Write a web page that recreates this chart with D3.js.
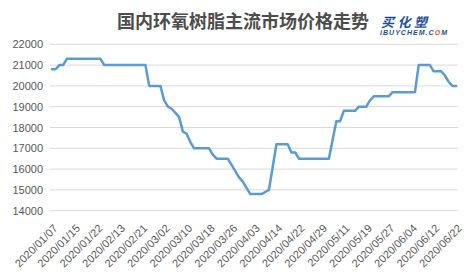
<!DOCTYPE html>
<html>
<head>
<meta charset="utf-8">
<script src="https://cdn.jsdelivr.net/npm/d3@7"></script>
<style>
  body { margin: 0; background: #fff; }
  svg { display: block; }
</style>
</head>
<body>
<script>
// price series, one value per trading day
var prices = [
  20800, 20800, 21000, 21000, 21300, 21300, 21300, 21300, 21300, 21300,
  21300, 21300, 21300, 21300, 21000, 21000, 21000, 21000, 21000, 21000,
  21000, 21000, 21000, 21000, 21000, 21000, 20000, 20000, 20000, 20000,
  19300, 19000, 18900, 18700, 18500, 17800, 17700, 17300, 17000, 17000,
  17000, 17000, 17000, 16700, 16500, 16500, 16500, 16500, 16200, 15900,
  15600, 15400, 15100, 14800, 14800, 14800, 14800, 14900, 15000, 16100,
  17200, 17200, 17200, 17200, 16800, 16800, 16500, 16500, 16500, 16500,
  16500, 16500, 16500, 16500, 16500, 17400, 18300, 18300, 18800, 18800,
  18800, 18800, 19000, 19000, 19000, 19300, 19500, 19500, 19500, 19500,
  19500, 19700, 19700, 19700, 19700, 19700, 19700, 19700, 21000, 21000,
  21000, 21000, 20700, 20700, 20700, 20500, 20200, 20000, 20000
];

// date labels shown on the axis, every 6th trading day
var tickLabels = [
  "2020/01/07", "2020/01/15", "2020/01/22", "2020/02/13", "2020/02/21",
  "2020/03/02", "2020/03/10", "2020/03/18", "2020/03/26", "2020/04/03",
  "2020/04/14", "2020/04/22", "2020/04/29", "2020/05/11", "2020/05/19",
  "2020/05/27", "2020/06/04", "2020/06/12", "2020/06/22"
];
var labelEvery = 6;

var yTicks = [14000, 15000, 16000, 17000, 18000, 19000, 20000, 21000, 22000];

var width = 470, height = 278;
var svg = d3.select("body").append("svg")
    .attr("width", width)
    .attr("height", height);

var x = d3.scalePoint()
    .domain(d3.range(prices.length))
    .range([50, 458])
    .padding(0.5);

var y = d3.scaleLinear()
    .domain([14000, 22000])
    .range([210.7, 44.3]);

// title
svg.append("text")
    .attr("x", 243)
    .attr("y", 28)
    .attr("text-anchor", "middle")
    .style("font-family", "'Noto Sans CJK SC'")
    .style("font-size", "18px")
    .style("font-weight", "bold")
    .style("fill", "#4d4d4d")
    .text("国内环氧树脂主流市场价格走势");

// logo
svg.append("text")
    .attr("x", 381)
    .attr("y", 26.5)
    .attr("textLength", 46)
    .style("font-family", "'Noto Sans CJK SC'")
    .style("font-size", "13px")
    .style("font-weight", "bold")
    .style("font-style", "italic")
    .style("fill", "#1c4fa3")
    .text("买化塑");

var logo2 = svg.append("text")
    .attr("x", 380)
    .attr("y", 35)
    .attr("textLength", 67)
    .style("font-family", "'Liberation Sans'")
    .style("font-size", "7px")
    .style("font-weight", "bold")
    .style("font-style", "italic")
    .style("fill", "#1c4fa3");
logo2.append("tspan").text("iBUYCHEM.C");
logo2.append("tspan").style("fill", "#e8501e").text("O");
logo2.append("tspan").text("M");

// gridlines
svg.append("g")
  .selectAll("line")
  .data(yTicks)
  .enter().append("line")
    .attr("x1", 50)
    .attr("x2", 458)
    .attr("y1", function(d) { return y(d); })
    .attr("y2", function(d) { return y(d); })
    .attr("stroke", "#d9d9d9")
    .attr("stroke-width", 1);

// y axis labels
var yAxis = svg.append("g")
    .attr("transform", "translate(50,0)")
    .call(d3.axisLeft(y).tickValues(yTicks).tickSize(0).tickPadding(7).tickFormat(d3.format("d")));
yAxis.select(".domain").remove();
yAxis.selectAll("text")
    .style("font-family", "'Liberation Sans'")
    .style("font-size", "11px")
    .style("fill", "#595959");

// x axis labels, rotated
svg.append("g")
  .selectAll("text")
  .data(tickLabels)
  .enter().append("text")
    .attr("transform", function(d, i) {
        return "translate(" + (x(i * labelEvery) + 6.5) + ",229) rotate(-45)";
    })
    .attr("text-anchor", "end")
    .style("font-family", "'Liberation Sans'")
    .style("font-size", "11px")
    .style("fill", "#595959")
    .text(function(d) { return d; });

// price line
var line = d3.line()
    .x(function(d, i) { return x(i); })
    .y(function(d) { return y(d); });

svg.append("path")
    .datum(prices)
    .attr("d", line)
    .attr("fill", "none")
    .attr("stroke", "#5b9bd5")
    .attr("stroke-width", 2.5)
    .attr("stroke-linejoin", "round")
    .attr("stroke-linecap", "round");
</script>
</body>
</html>
